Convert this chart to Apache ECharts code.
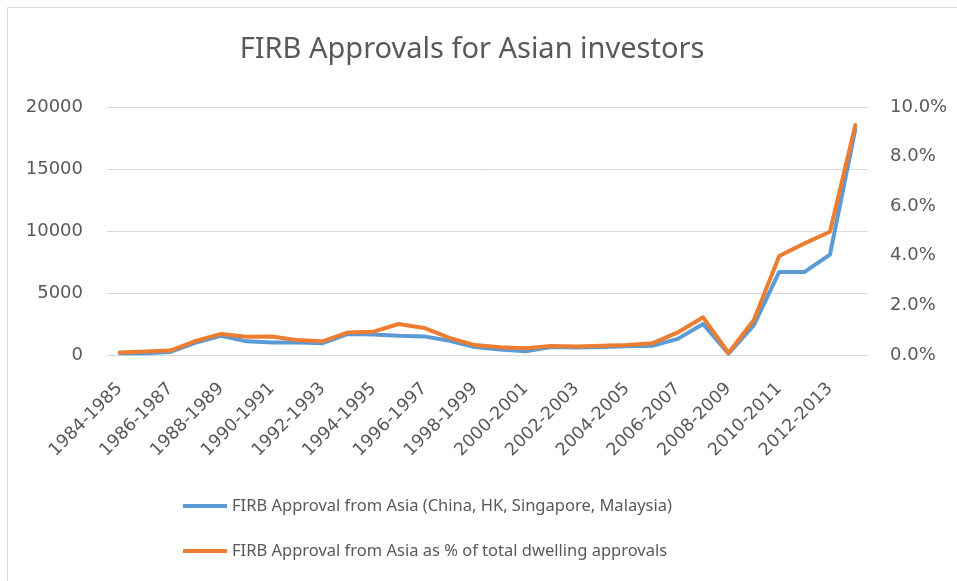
<!DOCTYPE html>
<html>
<head>
<meta charset="utf-8">
<title>FIRB Approvals for Asian investors</title>
<script src="https://cdn.jsdelivr.net/npm/echarts@6/dist/echarts.min.js"></script>
<style>
  html, body { margin: 0; padding: 0; background: #fff; }
  #main { width: 957px; height: 581px; }
</style>
</head>
<body>
<div id="main"></div>
<script>
// 财年
var years = [
    '1984-1985', '1985-1986', '1986-1987', '1987-1988', '1988-1989', '1989-1990',
    '1990-1991', '1991-1992', '1992-1993', '1993-1994', '1994-1995', '1995-1996',
    '1996-1997', '1997-1998', '1998-1999', '1999-2000', '2000-2001', '2001-2002',
    '2002-2003', '2003-2004', '2004-2005', '2005-2006', '2006-2007', '2007-2008',
    '2008-2009', '2009-2010', '2010-2011', '2011-2012', '2012-2013', '2013-2014'
];

// 亚洲审批数量（左轴）
var asiaApprovals = [
    150, 150, 250, 1000, 1550, 1100, 1000, 1000, 950, 1700,
    1650, 1550, 1500, 1150, 650, 450, 300, 650, 600, 650,
    700, 750, 1300, 2500, 100, 2400, 6700, 6700, 8100, 18200
];

// 占住宅审批总数的百分比（右轴）
var asiaShare = [
    0.10, 0.14, 0.18, 0.57, 0.85, 0.74, 0.75, 0.60, 0.55, 0.91,
    0.94, 1.25, 1.09, 0.69, 0.40, 0.31, 0.27, 0.36, 0.34, 0.37,
    0.40, 0.47, 0.91, 1.52, 0.08, 1.41, 3.99, 4.50, 4.97, 9.27
];

var seriesNames = [
    'FIRB Approval from Asia (China, HK, Singapore, Malaysia)',
    'FIRB Approval from Asia as % of total dwelling approvals'
];

var textColor = '#595959';
var gridColor = '#d9d9d9';

var chart = echarts.init(document.getElementById('main'), null, { renderer: 'canvas' });

var option = {
    backgroundColor: '#ffffff',
    animation: false,
    color: ['#5b9bd5', '#ed7d31'],
    // 外框只露出左边和上边
    graphic: [{
        type: 'polyline',
        silent: true,
        shape: { points: [[7.5, 581], [7.5, 7.5], [957, 7.5]] },
        style: { fill: null, stroke: gridColor, lineWidth: 1 }
    }],
    title: {
        text: 'FIRB Approvals for Asian investors',
        left: 467,
        top: 30,
        textAlign: 'center',
        textStyle: {
            fontFamily: 'Noto Sans',
            fontSize: 29,
            fontWeight: 'normal',
            color: textColor
        }
    },
    legend: {
        orient: 'vertical',
        left: 178,
        top: 492,
        icon: 'rect',
        itemWidth: 44,
        itemHeight: 4,
        itemGap: 27,
        data: seriesNames,
        textStyle: {
            fontFamily: 'Noto Sans',
            fontSize: 16.5,
            lineHeight: 18,
            color: textColor
        }
    },
    grid: {
        left: 107,
        right: 89,
        top: 107,
        bottom: 226,
        outerBoundsMode: 'none'
    },
    xAxis: {
        type: 'category',
        data: years,
        boundaryGap: true,
        offset: 17,  // 标签整体下移，零线由 y 轴网格线画
        axisLine: { show: false },
        axisTick: { show: false },
        axisLabel: {
            interval: 1,
            rotate: 45,
            margin: 14,
            fontFamily: 'DejaVu Sans',
            fontSize: 17.5,
            color: textColor
        }
    },
    yAxis: [{
        type: 'value',
        min: 0,
        max: 20000,
        interval: 5000,
        axisLine: { show: false },
        axisTick: { show: false },
        splitLine: { lineStyle: { color: gridColor, width: 1 } },
        axisLabel: {
            margin: 24,
            fontFamily: 'DejaVu Sans',
            fontSize: 18,
            color: textColor,
            formatter: function(v) {
                return String(v);
            }
        }
    }, {
        type: 'value',
        min: 0,
        max: 10,
        interval: 2,
        axisLine: { show: false },
        axisTick: { show: false },
        splitLine: { show: false },
        axisLabel: {
            margin: 22,
            fontFamily: 'DejaVu Sans',
            fontSize: 18,
            color: textColor,
            formatter: function(v) {
                return v.toFixed(1) + '%';
            }
        }
    }],
    series: [{
        name: seriesNames[0],
        type: 'line',
        yAxisIndex: 0,
        data: asiaApprovals,
        symbol: 'none',
        lineStyle: { width: 4, cap: 'round', join: 'round' }
    }, {
        name: seriesNames[1],
        type: 'line',
        yAxisIndex: 1,
        data: asiaShare,
        symbol: 'none',
        lineStyle: { width: 4, cap: 'round', join: 'round' }
    }]
};

chart.setOption(option);
</script>
</body>
</html>
